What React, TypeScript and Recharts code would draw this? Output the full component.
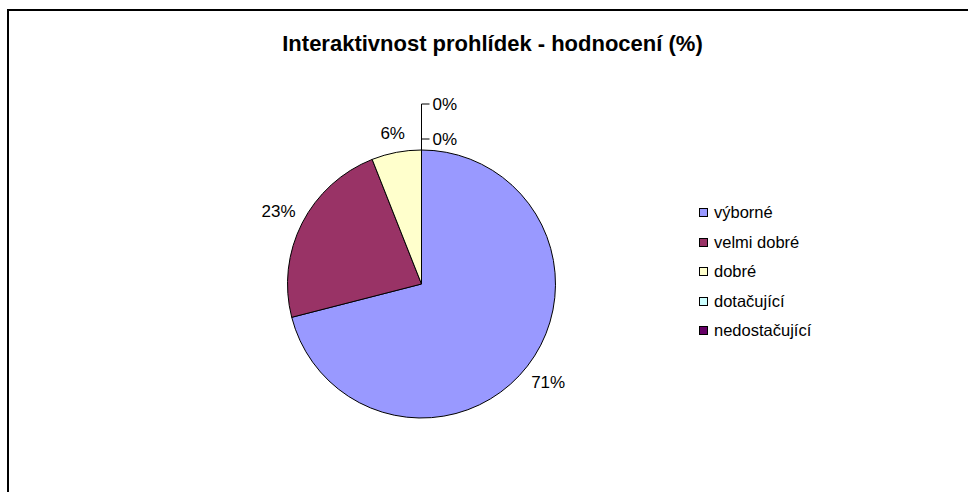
import React from "react";
import { PieChart, Pie, Cell, Legend } from "recharts";

const categories = ["výborné", "velmi dobré", "dobré", "dotačující", "nedostačující"];
const values = [71, 23, 6, 0, 0];
const colors = ["#9999FF", "#993366", "#FFFFCC", "#CCFFFF", "#660066"];

const title = "Interaktivnost prohlídek - hodnocení (%)";
const FONT = "'Liberation Sans', Arial, sans-serif";

const data = categories.map((name, i) => ({ name, value: values[i] }));
const zeroIdx = values.map((v, i) => (v === 0 ? i : -1)).filter((i) => i >= 0);

const RAD = Math.PI / 180;

function renderLabel(props: any) {
  const { cx, cy, midAngle, outerRadius, percent, index } = props;
  const text = `${Math.round(percent * 100)}%`;
  if (values[index] === 0) {
    // stacked leader-line labels at the top of the pie
    const k = zeroIdx.indexOf(index);
    const top = cy - outerRadius;
    const ly = top - 11 - 35 * k;
    return (
      <g key={`lbl-${index}`}>
        <path d={`M${cx},${top}V${ly}H${cx + 8}`} stroke="#000" fill="none" strokeWidth={1} />
        <text x={cx + 11} y={ly} fontSize={17} fontFamily={FONT} fill="#000" textAnchor="start" dominantBaseline="central">
          {text}
        </text>
      </g>
    );
  }
  const dx = Math.cos(-midAngle * RAD);
  const dy = Math.sin(-midAngle * RAD);
  const hw = text.length * 4.8;
  const dist = outerRadius + 10 + Math.abs(dx) * hw + Math.abs(dy) * 8;
  return (
    <text
      key={`lbl-${index}`}
      x={cx + dx * dist}
      y={cy + dy * dist}
      fontSize={17}
      fontFamily={FONT}
      fill="#000"
      textAnchor="middle"
      dominantBaseline="central"
    >
      {text}
    </text>
  );
}

function LegendContent(props: any) {
  const payload = [...(props.payload || [])].sort(
    (a: any, b: any) => categories.indexOf(a.value) - categories.indexOf(b.value)
  );
  return (
    <div style={{ fontFamily: FONT, fontSize: 16.5, color: "#000" }}>
      {payload.map((p: any, i: number) => (
        <div key={i} style={{ height: 29.5, display: "flex", alignItems: "center" }}>
          <span
            style={{
              display: "inline-block",
              width: 9,
              height: 9,
              background: p.color,
              border: "1px solid #000",
              boxSizing: "border-box",
              marginRight: 6,
            }}
          />
          <span>{p.value}</span>
        </div>
      ))}
    </div>
  );
}

export default function App() {
  return (
    <div style={{ position: "fixed", left: 0, top: 0, width: 968, height: 492, overflow: "hidden", background: "#fff" }}>
      <div
        style={{
          position: "absolute",
          left: 7,
          top: 9,
          width: 1000,
          height: 600,
          border: "2px solid #000",
          boxSizing: "border-box",
        }}
      />
      <div
        style={{
          position: "absolute",
          left: 0,
          top: 30,
          width: 985,
          textAlign: "center",
          fontFamily: FONT,
          fontWeight: "bold",
          fontSize: 22,
          lineHeight: "28px",
          color: "#000",
        }}
      >
        {title}
      </div>
      <div style={{ position: "absolute", left: 0, top: 0 }}>
        <PieChart width={968} height={492} margin={{ top: 0, right: 0, bottom: 0, left: 0 }}>
          <Pie
            data={data}
            dataKey="value"
            nameKey="name"
            cx={421.5}
            cy={284}
            outerRadius={134}
            startAngle={90}
            endAngle={-270}
            stroke="#000"
            strokeWidth={1}
            label={renderLabel}
            labelLine={false}
            isAnimationActive={false}
          >
            {data.map((d, i) => (
              <Cell key={d.name} fill={colors[i]} />
            ))}
          </Pie>
          <Legend
            layout="vertical"
            verticalAlign="middle"
            align="right"
            content={<LegendContent />}
            wrapperStyle={{ position: "absolute", left: 699, top: 198, width: 200 }}
          />
        </PieChart>
      </div>
    </div>
  );
}
